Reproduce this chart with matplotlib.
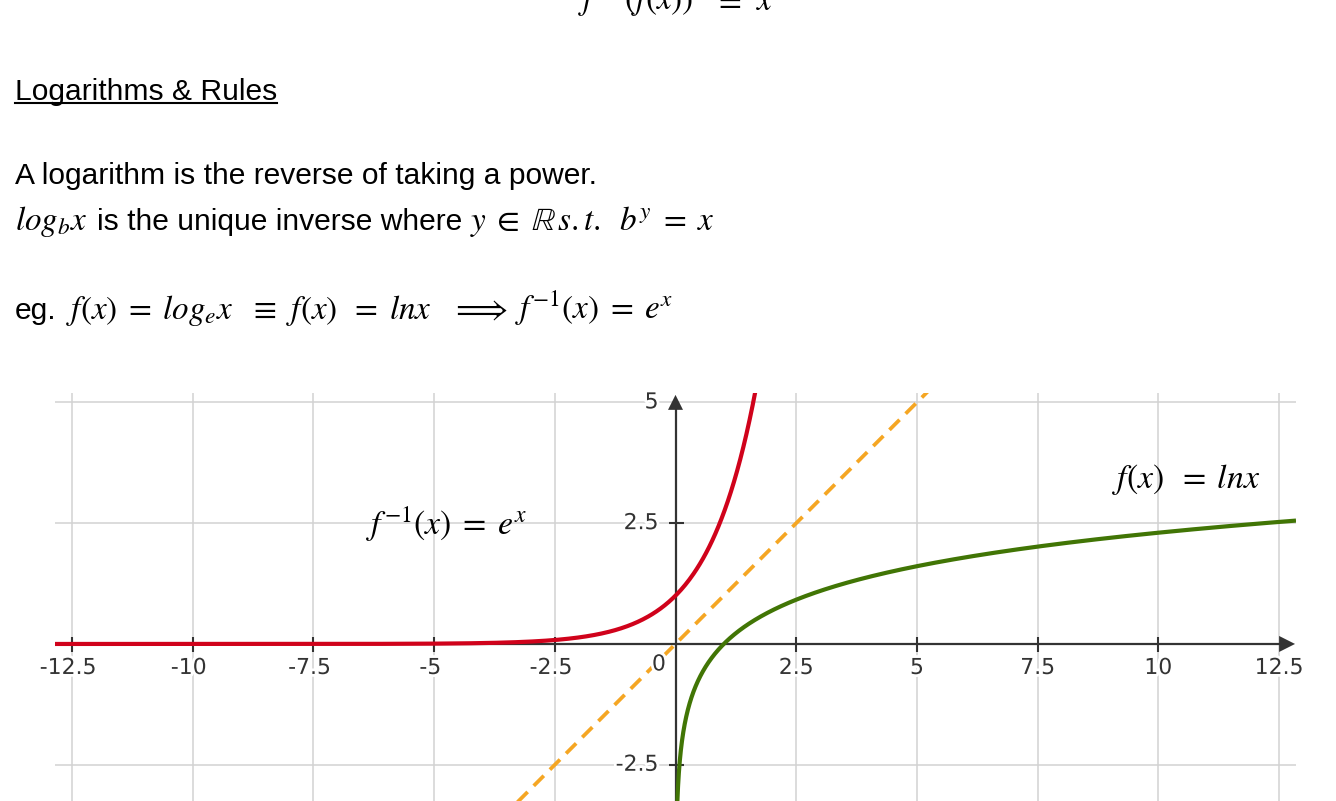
import numpy as np
import matplotlib.pyplot as plt
import matplotlib.patheffects as pe
from matplotlib.lines import Line2D
from matplotlib.patches import Polygon

plt.rcParams['font.family'] = ['Liberation Sans', 'DejaVu Sans']
plt.rcParams['mathtext.fontset'] = 'stix'

W, H = 1336, 801

# graph window and ticks
x_range = (-12.85, 12.85)
y_range = (-3.25, 5.2)
x_ticks = [-12.5, -10, -7.5, -5, -2.5, 2.5, 5, 7.5, 10, 12.5]
x_tick_labels = ['-12.5', '-10', '-7.5', '-5', '-2.5', '2.5', '5', '7.5', '10', '12.5']
y_ticks = [-2.5, 2.5, 5]
y_tick_labels = ['-2.5', '2.5', '5']

exp_label = r'$f^{-1}(x)\;=\;e^{x}$'
ln_label = r'$f(x)\;\;=\;lnx$'

red = '#D0021B'
green = '#417505'
orange = '#F5A623'
axis_col = '#333333'
grid_col = '#d2d2d2'

TXT = 21.6   # body text size
MATH = 23.9  # inline math size


def px(x, y):
    return x / W, 1 - y / H


def put(x, y, s, size=TXT):
    return fig.text(*px(x, y), s, fontsize=size, va='baseline')


fig = plt.figure(figsize=(W / 100, H / 100), dpi=100)

# notes above the graph (first line runs off the top edge)
put(578, 10, r'$f^{-1}(f(x))$', MATH)
put(714, 10, r'$=$', MATH)
put(756, 10, r'$x$', MATH)

title = put(15, 100, 'Logarithms & Rules')
put(15, 184, 'A logarithm is the reverse of taking a power.')

put(15, 230, r'$log_bx$', MATH)
put(97, 230, 'is the unique inverse where')
put(470, 230, r'$y\;\in\;\mathbb{R}\,s.t.\;\;b^y\;=\;x$', MATH)

put(15, 319, 'eg.')
put(66, 319, r'$f(x)\;=\;log_ex$', MATH)
put(249, 319, r'$\equiv$', MATH)
put(286, 319, r'$f(x)\;\;=\;lnx$', MATH)
put(451, 319, r'$\Longrightarrow$', MATH)
put(515, 319, r'$f^{-1}(x)\;=\;e^x$', MATH)

renderer = fig.canvas.get_renderer()
bb = title.get_window_extent(renderer=renderer)
fig.add_artist(Line2D([bb.x0 / W, bb.x1 / W], [1 - 102.5 / H, 1 - 102.5 / H],
                      color='black', lw=1.5))

ax = fig.add_axes([55 / W, 0, (1296 - 55) / W, (801 - 392.7) / H])
ax.set_xlim(*x_range)
ax.set_ylim(*y_range)
ax.axis('off')

# grid
ax.vlines(x_ticks, *y_range, color=grid_col, lw=1.1, zorder=1)
ax.hlines(y_ticks, *x_range, color=grid_col, lw=1.1, zorder=1)

# axes with arrow heads
ax.plot([x_range[0], 12.6], [0, 0], color=axis_col, lw=1.6, zorder=2)
ax.plot([0, 0], [y_range[0], 4.9], color=axis_col, lw=1.6, zorder=2)
ax.add_patch(Polygon([[12.83, 0], [12.5, 0.166], [12.5, -0.166]],
                     closed=True, color=axis_col, lw=0, zorder=2))
ax.add_patch(Polygon([[0, 5.155], [-0.155, 4.845], [0.155, 4.845]],
                     closed=True, color=axis_col, lw=0, zorder=2))
ax.plot(x_ticks[:-1], np.zeros(len(x_ticks) - 1), ls='none', marker='|',
        ms=10.8, mew=1.5, color=axis_col, zorder=2)
ax.plot(np.zeros(len(y_ticks) - 1), y_ticks[:-1], ls='none', marker='_',
        ms=10.8, mew=1.5, color=axis_col, zorder=2)

# curves
xs = np.linspace(x_range[0], x_range[1], 1200)
ax.plot(xs, np.exp(xs), color=red, lw=3.0, zorder=4, solid_capstyle='butt')
xl = np.geomspace(0.02, x_range[1], 1500)
ax.plot(xl, np.log(xl), color=green, lw=3.0, zorder=4, solid_capstyle='butt')
ax.plot(xs, xs, color=orange, lw=2.7, ls=(0, (3.8, 2.3)), zorder=3)

halo = [pe.withStroke(linewidth=4, foreground='white')]
tick_font = dict(fontsize=15.8, color=axis_col, family='DejaVu Sans',
                 path_effects=halo, zorder=5)
for x, lab in zip(x_ticks, x_tick_labels):
    shift = -3.75 if lab.startswith('-') else 0
    ax.annotate(lab, (x, 0), xytext=(shift, -24), textcoords='offset pixels',
                ha='center', va='center', **tick_font)
for y, lab in zip(y_ticks, y_tick_labels):
    ax.annotate(lab, (0, y), xytext=(-17, 0), textcoords='offset pixels',
                ha='right', va='center', **tick_font)
ax.annotate('0', (0, 0), xytext=(-16.5, -20.5), textcoords='offset pixels',
            ha='center', va='center', **tick_font)

ax.text(-6.41, 2.257, exp_label, fontsize=24.3, va='baseline', zorder=6)
ax.text(9.04, 3.23, ln_label, fontsize=24.3, va='baseline', zorder=6)

fig.savefig('out.png', dpi=100)
